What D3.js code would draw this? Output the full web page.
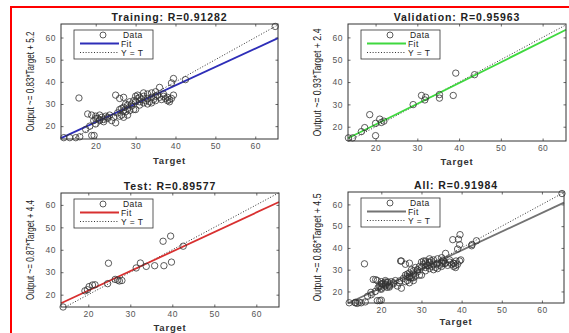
<!DOCTYPE html>
<html>
<head>
<meta charset="utf-8">
<script src="https://cdn.jsdelivr.net/npm/d3@7"></script>
<style>
  html, body { margin: 0; padding: 0; background: #fff; }
  svg { display: block; }
  text { font-family: "Liberation Sans", Arial, Helvetica, sans-serif; }
</style>
</head>
<body>
<svg id="chart" width="569" height="333"></svg>
<script>
// Regression results for the four data splits
const panelNames = ["Training", "Validation", "Test", "All"];
const rValues = ["0.91282", "0.95963", "0.89577", "0.91984"];
const fitSlopes = [0.83, 0.93, 0.87, 0.86];
const fitIntercepts = [5.2, 2.4, 4.4, 4.5];
const fitColors = ["#2e2eb8", "#3fd83f", "#d83030", "#737373"];

// Axis limits per panel
const xLimits = [[11.3, 65.7], [13.4, 65.6], [13.5, 65.4], [11.7, 65.5]];
const yLimits = [[14.2, 66.1], [13.6, 66.0], [14.5, 65.3], [14.7, 65.7]];
const tickValues = [20, 30, 40, 50, 60];

// Targets and network outputs
const trainingTarget = [12, 13.5, 15, 16, 19, 19.6, 15.8,
  18, 19, 20, 20.5, 21, 21.5, 22, 22.5, 23, 19.5, 20, 21, 22, 23.5, 24, 25, 24.5, 20, 21, 23, 17.5, 18.5,
  25, 26, 27,
  25.5, 26, 26.5, 27, 27, 27.5, 28, 28, 28.5, 29, 29.5, 27, 28, 26, 30, 29, 27.5, 26.5, 28.5,
  30, 30.5, 31, 31, 31.5, 32, 32, 32.5, 33, 33, 33.5, 34, 34, 34.5, 35, 35, 35.5, 36, 36, 36.5, 37, 37.5, 38, 38, 38.5, 39, 39.5, 30, 29.5, 31, 33, 34, 32, 30.5, 35, 37, 38.5,
  39, 39.5, 42.5,
  65];
const trainingOutput = [14.8, 14.8, 14.8, 15.2, 15.8, 15.8, 32.7,
  25.5, 25, 24.5, 23.5, 25, 24, 23, 24.5, 23.5, 22.5, 21, 22.5, 22, 25, 22.5, 21.5, 24, 23.5, 23, 24, 18.5, 20,
  34, 32.5, 33,
  26, 27.5, 25, 27, 28.5, 26.5, 28, 29.5, 27, 30, 27.5, 24, 25, 24.5, 27.5, 29, 30, 28, 31,
  31, 32.5, 31, 33, 32, 30.5, 33.5, 31.5, 32.5, 34.5, 31, 33, 35, 32, 33.5, 31.5, 34, 33, 37.5, 32, 33.5, 32.5, 31.5, 33, 32, 32.5, 34, 33.5, 31.5, 29.5, 30, 30.5, 35, 34, 35.5, 34.5, 31,
  39.5, 41.5, 41,
  65];

const validationTarget = [13.5, 14.5, 20, 18.6, 17.4, 16.6, 20, 21, 21.4, 22, 29, 31, 32, 31.8, 35.3, 35.3, 38.6, 39.2, 43.7];
const validationOutput = [15, 15, 16, 25.4, 19.6, 17.8, 21.5, 23.4, 21.9, 22.5, 29.9, 34, 33.2, 32, 34.4, 32.8, 34, 44, 43.3];

const testTarget = [14, 19.2, 19.8, 20.2, 21, 21.6, 24.8, 24.6, 26.4, 27, 27.4, 28, 31.4, 32.4, 33.8, 35.8, 38, 37.8, 39.6, 39.8, 42.6];
const testOutput = [14.5, 21.7, 22.2, 23.6, 24.3, 24.4, 34, 24.9, 26.8, 26.5, 26.1, 26.3, 31.9, 34.1, 32.6, 32.9, 32.9, 43.8, 46.1, 34.5, 41.6];

const allTarget = trainingTarget.concat(validationTarget, testTarget);
const allOutput = trainingOutput.concat(validationOutput, testOutput);

const panelTargets = [trainingTarget, validationTarget, testTarget, allTarget];
const panelOutputs = [trainingOutput, validationOutput, testOutput, allOutput];

// Plot-area boxes (left, top, right, bottom) and x-label baselines for the 2x2 grid
const boxes = [
  {l: 61, t: 24, r: 278, b: 139, xl: 163.5},
  {l: 348, t: 24, r: 566, b: 141, xl: 165},
  {l: 61, t: 193, r: 279, b: 307, xl: 330.5},
  {l: 348, t: 192, r: 564, b: 303, xl: 324.5}
];

const svg = d3.select("#chart");

// Frame drawn around the figure
svg.append("path")
  .attr("d", "M11,333 L11,7 L569,7")
  .attr("fill", "none")
  .attr("stroke", "#ff0000")
  .attr("stroke-width", 2);

panelNames.forEach((name, i) => {
  const bx = boxes[i];
  const x = d3.scaleLinear().domain(xLimits[i]).range([bx.l, bx.r]);
  const y = d3.scaleLinear().domain(yLimits[i]).range([bx.b, bx.t]);
  const g = svg.append("g");

  // Axes with inward ticks
  const xAxis = g.append("g").attr("transform", `translate(0,${bx.b})`)
    .call(d3.axisBottom(x).tickValues(tickValues).tickSizeInner(-2.5).tickSizeOuter(0).tickPadding(4));
  const xTop = g.append("g").attr("transform", `translate(0,${bx.t})`)
    .call(d3.axisTop(x).tickValues(tickValues).tickSizeInner(-2.5).tickSizeOuter(0).tickFormat(""));
  const yAxis = g.append("g").attr("transform", `translate(${bx.l},0)`)
    .call(d3.axisLeft(y).tickValues(tickValues).tickSizeInner(-2.5).tickSizeOuter(0).tickPadding(5));
  const yRight = g.append("g").attr("transform", `translate(${bx.r},0)`)
    .call(d3.axisRight(y).tickValues(tickValues).tickSizeInner(-2.5).tickSizeOuter(0).tickFormat(""));
  [xAxis, xTop, yAxis, yRight].forEach(a => {
    a.select(".domain").remove();
    a.selectAll(".tick line").attr("stroke", "#444").attr("stroke-width", 0.8);
    a.selectAll(".tick text").attr("fill", "#555").style("font-size", "8.5px").style("letter-spacing", "0.5px");
  });

  // Y = T reference line
  const lo = Math.max(xLimits[i][0], yLimits[i][0]);
  const hi = Math.min(xLimits[i][1], yLimits[i][1]);
  g.append("line")
    .attr("x1", x(lo)).attr("y1", y(lo)).attr("x2", x(hi)).attr("y2", y(hi))
    .attr("stroke", "#333").attr("stroke-width", 1).attr("stroke-dasharray", "1,1.8");

  // Linear fit
  const fx0 = xLimits[i][0], fx1 = xLimits[i][1];
  g.append("line")
    .attr("x1", x(fx0)).attr("y1", y(fitSlopes[i] * fx0 + fitIntercepts[i]))
    .attr("x2", x(fx1)).attr("y2", y(fitSlopes[i] * fx1 + fitIntercepts[i]))
    .attr("stroke", fitColors[i]).attr("stroke-width", 1.8);

  // Data points
  g.append("g").selectAll("circle")
    .data(panelTargets[i].map((t, k) => [t, panelOutputs[i][k]]))
    .join("circle")
    .attr("cx", d => x(d[0])).attr("cy", d => y(d[1]))
    .attr("r", 3.2)
    .attr("fill", "none").attr("stroke", "#333").attr("stroke-width", 0.8);

  // Box
  g.append("rect")
    .attr("x", bx.l).attr("y", bx.t).attr("width", bx.r - bx.l).attr("height", bx.b - bx.t)
    .attr("fill", "none").attr("stroke", "#333").attr("stroke-width", 1);

  // Title
  g.append("text")
    .attr("x", (bx.l + bx.r) / 2).attr("y", bx.t - 3)
    .attr("text-anchor", "middle")
    .style("font-size", "10.5px").style("font-weight", "bold").style("letter-spacing", "0.9px")
    .attr("fill", "#222")
    .text(`${name}: R=${rValues[i]}`);

  // X label
  g.append("text")
    .attr("x", (bx.l + bx.r) / 2).attr("y", bx.xl)
    .attr("text-anchor", "middle")
    .style("font-size", "9.5px").style("font-weight", "bold").style("letter-spacing", "0.8px")
    .attr("fill", "#333")
    .text("Target");

  // Y label
  const cy = (bx.t + bx.b) / 2;
  g.append("text")
    .attr("transform", `translate(${bx.l - 27},${cy}) rotate(-90)`)
    .attr("text-anchor", "middle")
    .attr("textLength", i % 2 === 0 ? 100 : 108)
    .attr("lengthAdjust", "spacingAndGlyphs")
    .style("font-size", "11px")
    .attr("fill", "#222")
    .text(`Output ~= ${fitSlopes[i].toFixed(2)}*Target + ${fitIntercepts[i].toFixed(1)}`);

  // Legend
  const lx = bx.l + 13, ly = bx.t + 6;
  const lg = g.append("g");
  lg.append("rect").attr("x", lx).attr("y", ly).attr("width", 79).attr("height", 29)
    .attr("fill", "#fff").attr("stroke", "#333").attr("stroke-width", 0.8);
  const rows = [ly + 5, ly + 13.5, ly + 22.5];
  lg.append("circle").attr("cx", lx + 29).attr("cy", rows[0]).attr("r", 3)
    .attr("fill", "none").attr("stroke", "#333").attr("stroke-width", 0.8);
  lg.append("line").attr("x1", lx + 6).attr("x2", lx + 45).attr("y1", rows[1]).attr("y2", rows[1])
    .attr("stroke", fitColors[i]).attr("stroke-width", 1.8);
  lg.append("line").attr("x1", lx + 6).attr("x2", lx + 45).attr("y1", rows[2]).attr("y2", rows[2])
    .attr("stroke", "#333").attr("stroke-width", 1).attr("stroke-dasharray", "1,1.8");
  ["Data", "Fit", "Y = T"].forEach((s, k) => {
    lg.append("text").attr("x", k === 0 ? lx + 49 : lx + 47).attr("y", rows[k] + 3)
      .style("font-size", "8.5px").style("letter-spacing", "0.4px").attr("fill", "#222").text(s);
  });
});
</script>
</body>
</html>
